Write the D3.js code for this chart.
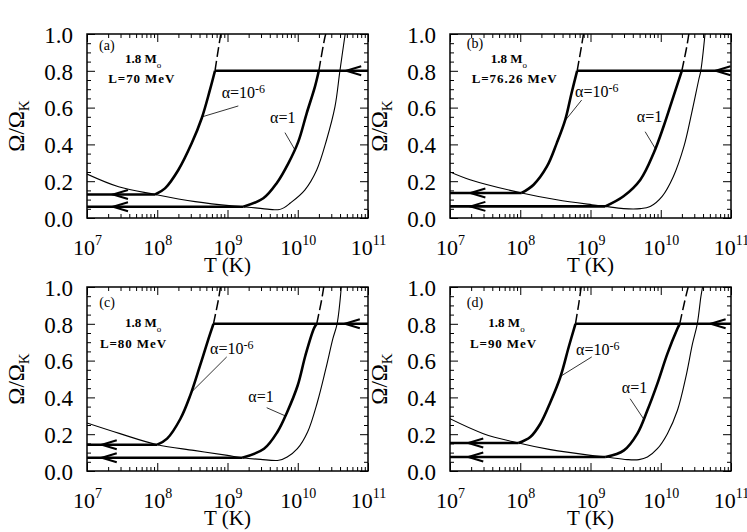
<!DOCTYPE html>
<html lang="en">
<head>
<meta charset="UTF-8">
<title>Spin evolution, 1.8 Mo</title>
<script src="https://d3js.org/d3.v7.min.js"></script>
<style>
  body { margin: 0; background: #fff; }
  svg, svg text { font-family: "Liberation Serif", "Times New Roman", serif; fill: #000; }
  .frame { fill: none; stroke: #000; stroke-width: 1.5; }
  .thick { fill: none; stroke: #000; stroke-width: 2.6; }
  .thin { fill: none; stroke: #000; stroke-width: 1.1; }
  .dash { fill: none; stroke: #000; stroke-width: 1.5; stroke-dasharray: 10 4; }
  .lead { stroke: #000; stroke-width: 0.8; }
  .arrow { fill: none; stroke: #000; stroke-width: 2; }
  .tick line { stroke: #000; stroke-width: 1; }
  .x-num { font-size: 22px; }
  .y-num { font-size: 23px; }
</style>
</head>
<body>
<div id="chart"></div>
<script>
// all curves are [log10(T/K), Omega/Omega_K]
const xDecades = [7, 8, 9, 10, 11];
const yTicks = [0, 0.2, 0.4, 0.6, 0.8, 1.0];
const panelTags = ["(a)", "(b)", "(c)", "(d)"];
const luminosity = ["L=70 MeV", "L=76.26 MeV", "L=80 MeV", "L=90 MeV"];
const saturation = 0.8;

// (a) L = 70 MeV
const critA = [[7,0.239],[7.45,0.17],[7.97,0.128],[8.54,0.089],[9.06,0.066],[9.225,0.0615],[9.6,0.047],[9.72,0.045],[9.80,0.055],[9.89,0.08],[10.10,0.152],[10.27,0.261],[10.41,0.424],[10.53,0.605],[10.60,0.80],[10.675,1.0]];
const slowA = [[7.97,0.128],[8.11,0.161],[8.30,0.261],[8.49,0.406],[8.633,0.542],[8.75,0.696],[8.822,0.8]];
const slowTailA = [[8.822,0.8],[8.89,0.967],[8.905,1.0]];
const fastA = [[9.225,0.0615],[9.51,0.107],[9.70,0.189],[9.866,0.297],[10.008,0.415],[10.127,0.569],[10.245,0.714],[10.30,0.8]];
const fastTailA = [[10.30,0.8],[10.388,0.985],[10.40,1.0]];
const arrowsA = [7.37, 10.69];

// (b) L = 76.26 MeV
const critB = [[7,0.25],[7.285,0.208],[8.02,0.136],[8.52,0.099],[9.02,0.072],[9.21,0.063],[9.47,0.051],[9.71,0.051],[9.85,0.063],[10.02,0.118],[10.18,0.226],[10.33,0.389],[10.44,0.57],[10.54,0.75],[10.57,0.80],[10.63,1.0]];
const slowB = [[8.02,0.136],[8.19,0.181],[8.38,0.28],[8.52,0.407],[8.64,0.533],[8.73,0.678],[8.81,0.8]];
const slowTailB = [[8.81,0.8],[8.87,0.93],[8.90,1.0]];
const fastB = [[9.21,0.063],[9.47,0.118],[9.71,0.208],[9.90,0.353],[10.04,0.497],[10.18,0.66],[10.30,0.8]];
const fastTailB = [[10.30,0.8],[10.37,0.93],[10.40,1.0]];
const arrowsB = [7.29, 10.78];

// (c) L = 80 MeV
const critC = [[7,0.261],[7.47,0.203],[8.0,0.143],[8.52,0.112],[9.0,0.085],[9.21,0.072],[9.47,0.063],[9.73,0.058],[9.85,0.076],[9.995,0.121],[10.14,0.212],[10.28,0.375],[10.40,0.556],[10.50,0.719],[10.56,0.80],[10.62,1.0]];
const slowC = [[8.0,0.143],[8.14,0.176],[8.33,0.284],[8.47,0.411],[8.61,0.574],[8.73,0.719],[8.80,0.8]];
const slowTailC = [[8.80,0.8],[8.87,0.93],[8.90,1.0]];
const fastC = [[9.21,0.072],[9.52,0.121],[9.71,0.212],[9.85,0.321],[10.0,0.466],[10.11,0.629],[10.23,0.774],[10.27,0.8]];
const fastTailC = [[10.27,0.8],[10.34,0.93],[10.37,1.0]];
const arrowsC = [7.21, 10.67];

// (d) L = 90 MeV
const critD = [[7,0.284],[7.476,0.203],[7.976,0.152],[8.43,0.116],[9.0,0.085],[9.214,0.076],[9.524,0.062],[9.69,0.062],[9.81,0.076],[9.952,0.121],[10.095,0.203],[10.238,0.33],[10.357,0.51],[10.452,0.692],[10.52,0.80],[10.571,0.946],[10.595,1.0]];
const slowD = [[7.976,0.152],[8.143,0.185],[8.286,0.257],[8.43,0.375],[8.571,0.511],[8.69,0.674],[8.786,0.8]];
const slowTailD = [[8.786,0.8],[8.833,0.909],[8.867,1.0]];
const fastD = [[9.214,0.076],[9.476,0.112],[9.667,0.203],[9.81,0.33],[9.952,0.475],[10.095,0.638],[10.238,0.774],[10.27,0.8]];
const fastTailD = [[10.27,0.8],[10.333,0.909],[10.39,1.0]];
const arrowsD = [7.26, 10.71];

// where the annotations sit, in the same data units
const notes = [
  {tag:[7.171,0.913], mass:[7.541,0.841], lum:[7.303,0.732], a6:[8.917,0.651], lead6:[[9.154,0.609],[8.64,0.55]], a1:[9.605,0.516], lead1:[[9.818,0.464],[9.96,0.37]]},
  {tag:[7.238,0.922], mass:[7.58,0.841], lum:[7.309,0.732], a6:[8.781,0.659], lead6:[[8.874,0.641],[8.638,0.529]], a1:[9.66,0.523], lead1:[[9.778,0.469],[9.92,0.379]]},
  {tag:[7.175,0.891], mass:[7.541,0.783], lum:[7.185,0.668], a6:[8.751,0.637], lead6:[[8.989,0.62],[8.49,0.43]], a1:[9.296,0.375], lead1:[[9.558,0.344],[9.82,0.30]]},
  {tag:[7.238,0.891], mass:[7.546,0.783], lum:[7.285,0.668], a6:[8.795,0.632], lead6:[[9.018,0.62],[8.575,0.515]], a1:[9.446,0.424], lead1:[[9.564,0.393],[9.754,0.284]]}
];

const panels = [
  {crit: critA, slow: slowA, slowTail: slowTailA, fast: fastA, fastTail: fastTailA, arrows: arrowsA},
  {crit: critB, slow: slowB, slowTail: slowTailB, fast: fastB, fastTail: fastTailB, arrows: arrowsB},
  {crit: critC, slow: slowC, slowTail: slowTailC, fast: fastC, fastTail: fastTailC, arrows: arrowsC},
  {crit: critD, slow: slowD, slowTail: slowTailD, fast: fastD, fastTail: fastTailD, arrows: arrowsD}
];

const W = 281, H = 184;
const cols = [87, 450], rows = [34, 287];

const svg = d3.select("#chart").append("svg")
  .attr("width", 747).attr("height", 532);

const majorT = xDecades.map(e => Math.pow(10, e));
const minorT = [];
xDecades.slice(0, -1).forEach(e => { for (let m = 2; m <= 9; m++) minorT.push(m * Math.pow(10, e)); });
const minorY = d3.range(1, 20).map(k => k * 0.05).filter((v, k) => (k + 1) % 4 !== 0);

panels.forEach((p, i) => {
  const left = cols[i % 2], top = rows[Math.floor(i / 2)];
  const n = notes[i];
  const g = svg.append("g").attr("transform", `translate(${left},${top})`);

  const x = d3.scaleLog().domain([1e7, 1e11]).range([0, W]);
  const y = d3.scaleLinear().domain([0, 1]).range([H, 0]);
  const X = v => x(Math.pow(10, v));
  const line = d3.line().x(d => X(d[0])).y(d => y(d[1])).curve(d3.curveCatmullRom.alpha(0.5));

  g.append("clipPath").attr("id", "clip" + i)
    .append("rect").attr("width", W).attr("height", H);
  const plot = g.append("g").attr("clip-path", `url(#clip${i})`);

  // minor and major ticks, all pointing inward, on four sides
  const ax = (axis, tx, ty) => g.append("g").attr("transform", `translate(${tx},${ty})`)
    .call(axis).call(s => s.select(".domain").remove())
    .attr("font-family", null).attr("font-size", null);
  ax(d3.axisBottom(x).tickValues(minorT).tickSize(-4).tickFormat(""), 0, H);
  ax(d3.axisTop(x).tickValues(minorT).tickSize(-4).tickFormat(""), 0, 0);
  ax(d3.axisLeft(y).tickValues(minorY).tickSize(-4).tickFormat(""), 0, 0);
  ax(d3.axisRight(y).tickValues(minorY).tickSize(-4).tickFormat(""), W, 0);
  ax(d3.axisTop(x).tickValues(majorT).tickSize(-8).tickFormat(""), 0, 0);
  ax(d3.axisRight(y).tickValues(yTicks).tickSize(-8).tickFormat(""), W, 0);

  const bottom = ax(d3.axisBottom(x).tickValues(majorT).tickSize(-8).tickPadding(21)
    .tickFormat(d => Math.round(Math.log10(d))), 0, H);
  bottom.selectAll(".tick text").attr("class", "x-num").each(function(d) {
    const t = d3.select(this);
    t.text("10");
    t.append("tspan").attr("dy", -10).style("font-size", "14px").text(Math.round(Math.log10(d)));
  });

  const leftAx = ax(d3.axisLeft(y).tickValues(yTicks).tickSize(-8).tickPadding(14)
    .tickFormat(d3.format(".1f")), 0, 0);
  leftAx.selectAll(".tick text").attr("class", "y-num").attr("dy", "0.36em");

  // plateaus the star spins down along, then the saturation level
  const upper = [[7, p.slow[0][1]], p.slow[0]];
  const lower = [[7, p.fast[0][1]], p.fast[0]];
  const satLine = [[p.slow[p.slow.length - 1][0], saturation], [11, saturation]];
  [upper, lower, satLine].forEach(seg => plot.append("path").attr("class", "thick").attr("d", d3.line().x(d => X(d[0])).y(d => y(d[1]))(seg)));

  plot.append("path").attr("class", "thin").attr("d", line(p.crit));
  plot.append("path").attr("class", "thick").attr("d", line(p.slow));
  plot.append("path").attr("class", "thick").attr("d", line(p.fast));
  plot.append("path").attr("class", "dash").attr("d", line(p.slowTail));
  plot.append("path").attr("class", "dash").attr("d", line(p.fastTail));

  // arrowheads pointing to lower temperature
  const head = (lt, om) => {
    const tx = X(lt), ty = y(om);
    plot.append("path").attr("class", "arrow")
      .attr("d", `M${tx + 15},${ty - 4.5}L${tx},${ty}L${tx + 15},${ty + 4.5}`);
  };
  head(p.arrows[0], p.slow[0][1]);
  head(p.arrows[0], p.fast[0][1]);
  head(p.arrows[1], saturation);

  g.append("rect").attr("class", "frame").attr("width", W).attr("height", H);

  // annotations
  g.append("text").attr("x", X(n.tag[0])).attr("y", y(n.tag[1]))
    .style("font-size", "14px").text(panelTags[i]);
  const m = g.append("text").attr("x", X(n.mass[0])).attr("y", y(n.mass[1]))
    .style("font-size", "13px").style("font-weight", "bold").text("1.8 M");
  m.append("tspan").attr("dy", 5).style("font-size", "9px").style("font-weight", "normal").text("o");
  g.append("text").attr("x", X(n.lum[0])).attr("y", y(n.lum[1]))
    .style("font-size", "13px").style("font-weight", "bold").style("letter-spacing", "0.9px").text(luminosity[i]);

  const a6 = g.append("text").attr("x", X(n.a6[0])).attr("y", y(n.a6[1])).style("font-size", "16px").text("α=10");
  a6.append("tspan").attr("dy", -5).style("font-size", "12px").text("-6");
  g.append("text").attr("x", X(n.a1[0])).attr("y", y(n.a1[1])).style("font-size", "16px").text("α=1");
  [n.lead6, n.lead1].forEach(l => g.append("line").attr("class", "lead")
    .attr("x1", X(l[0][0])).attr("y1", y(l[0][1]))
    .attr("x2", X(l[1][0])).attr("y2", y(l[1][1])));

  // axis titles
  g.append("text").attr("x", W / 2).attr("y", H + 54)
    .attr("text-anchor", "middle").style("font-size", "21px").text("T (K)");
  const yl = g.append("text")
    .attr("transform", `translate(-63,${H / 2}) rotate(-90)`)
    .attr("text-anchor", "middle").style("font-size", "23px").text("Ω/Ω");
  yl.append("tspan").attr("dy", 5).style("font-size", "15px").text("K");
});
</script>
</body>
</html>
